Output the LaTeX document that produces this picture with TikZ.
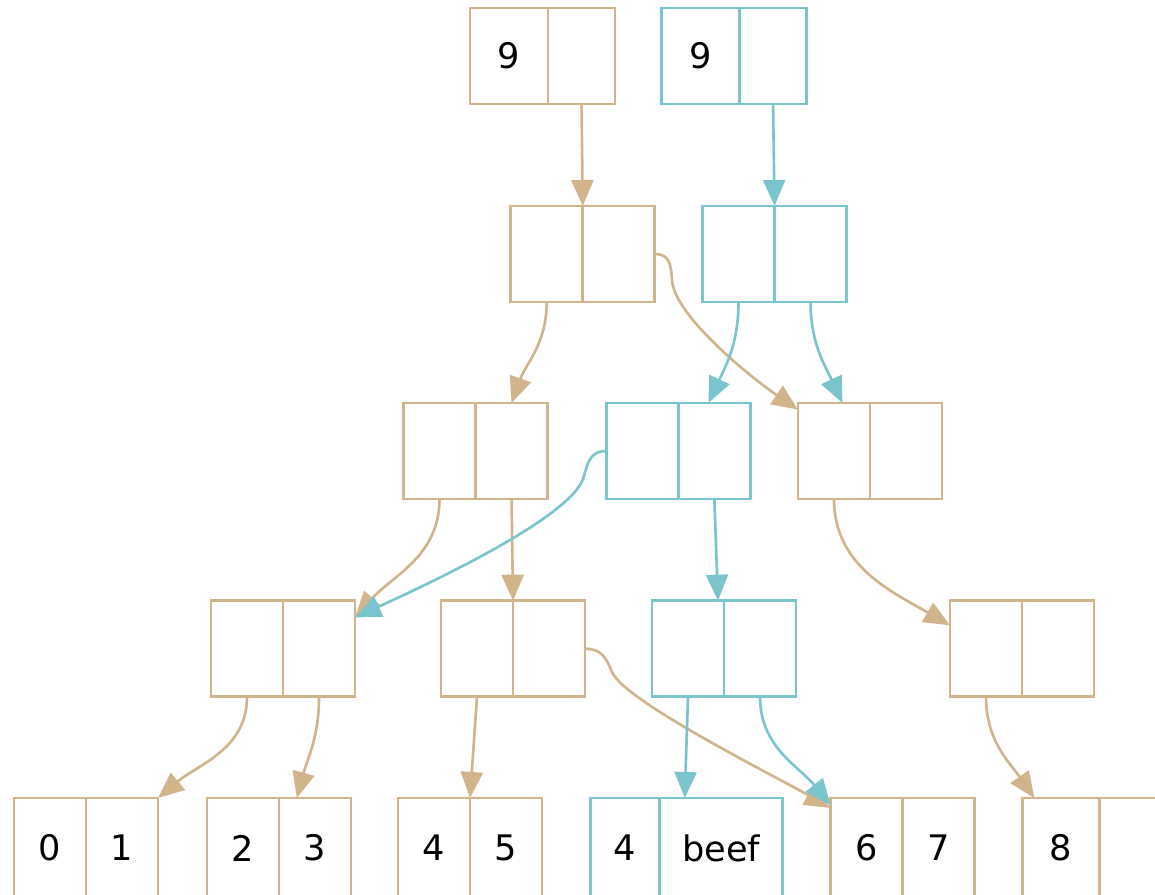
\documentclass[tikz,border=0pt]{standalone}
\usepackage{fontspec}
\setmainfont{DejaVu Sans}
\usetikzlibrary{positioning, arrows.meta}
\definecolor{oldtan}{HTML}{D2B48C}
\definecolor{newblue}{HTML}{7AC5CD}
\tikzset{
    cell/.style={rectangle, draw, minimum width=0.72cm, minimum height=0.96cm,
        inner sep=0pt, outer sep=0pt, font=\fontsize{10}{12}\selectfont},
    old/.style={cell, draw=oldtan},
    new/.style={cell, draw=newblue},
    leaf/.style={minimum height=1cm},
    oldptr/.style={->, draw=oldtan},
    newptr/.style={->, draw=newblue},
}

\begin{document}
\begin{tikzpicture}[x=0.01cm, y=-0.01cm, line width=0.75pt]
    \tikzset{
      node distance=0pt,
      >={Triangle[length=0.26cm, width=0.22cm]}
    }
    \useasboundingbox (0,0) rectangle (1155,894);

    \node[old, minimum width=0.78cm] (a1) at (509,56) {9};
    \node[old, minimum width=0.67cm, right=of a1] (a1r) {};
    \node[new, minimum width=0.78cm] (a2) at (700.5,56) {9};
    \node[new, minimum width=0.67cm, right=of a2] (a2r) {};

    \node[old] (b1) at (546.7,254) {};
    \node[old, right=of b1] (b1r) {};
    \node[new] (b2) at (738.5,254) {};
    \node[new, right=of b2] (b2r) {};

    \node[old] (c1) at (439.5,451) {};
    \node[old, right=of c1] (c1r) {};
    \node[new] (c2) at (642.3,451) {};
    \node[new, right=of c2] (c2r) {};
    \node[old] (c3) at (834,451) {};
    \node[old, right=of c3] (c3r) {};

    \node[old] (d1) at (247,648.7) {};
    \node[old, right=of d1] (d1r) {};
    \node[old] (d2) at (477,648.7) {};
    \node[old, right=of d2] (d2r) {};
    \node[new] (d3) at (688,648.7) {};
    \node[new, right=of d3] (d3r) {};
    \node[old] (d4) at (986,648.7) {};
    \node[old, right=of d4] (d4r) {};

    \node[old, leaf] (e1) at (50,848) {0};
    \node[old, leaf, right=of e1] (e1r) {1};
    \node[old, leaf] (e2) at (243,848) {2};
    \node[old, leaf, right=of e2] (e2r) {3};
    \node[old, leaf] (e3) at (434,848) {4};
    \node[old, leaf, right=of e3] (e3r) {5};
    \node[new, leaf, minimum width=0.69cm] (e4) at (625,848) {4};
    \node[new, leaf, minimum width=1.23cm, right=of e4] (e4r) {beef};
    \node[old, leaf] (e5) at (866.5,848) {6};
    \node[old, leaf, right=of e5] (e5r) {7};
    \node[old, leaf, minimum width=0.77cm] (e6) at (1061,848) {8};
    \node[old, leaf, right=of e6] (e6r) {};

    \draw[oldptr] (a1r.south) -- (b1.north east);
    \draw[newptr] (a2r.south) -- (b2.north east);

    \draw[oldptr] (b1.south) to[out=-90, in=70] (c1r.north);
    \draw[oldptr] (b1r.east) .. controls (668,254) and (671,262) .. (672,280)
        .. controls (674,316) and (753,379) .. (c3.131);
    \draw[newptr] (b2.south) to[out=-90, in=65] (c2r.97);
    \draw[newptr] (b2r.south) to[out=-90, in=115] (c3.80);

    \draw[oldptr] (c1.south) to[out=-90, in=48] (d1r.41);
    \draw[oldptr] (c1r.south) -- (d2.north east);
    \draw[newptr] (c2.west) .. controls (592,451) and (588,460) .. (584,476)
        .. controls (576,510) and (470,565) .. (d1r.41);
    \draw[newptr] (c2r.south) -- (d3.58);
    \draw[oldptr] (c3.south) to[out=-90, in=150] (d4.147);

    \draw[oldptr] (d1.south) to[out=-90, in=40] (e1r.north east);
    \draw[oldptr] (d1r.south) to[out=-90, in=75] (e2r.110);
    \draw[oldptr] (d2.south) -- (e3.north east);
    \draw[oldptr] (d2r.east) .. controls (600,649) and (605,655) .. (612,672)
        .. controls (624,701) and (775,776) .. (e5.132);
    \draw[newptr] (d3.south) -- (e4r.126);
    \draw[newptr] (d3r.south) to[out=-90, in=129] (e5.130);
    \draw[oldptr] (d4.south) to[out=-90, in=125] (e6.118);
\end{tikzpicture}
\end{document}
